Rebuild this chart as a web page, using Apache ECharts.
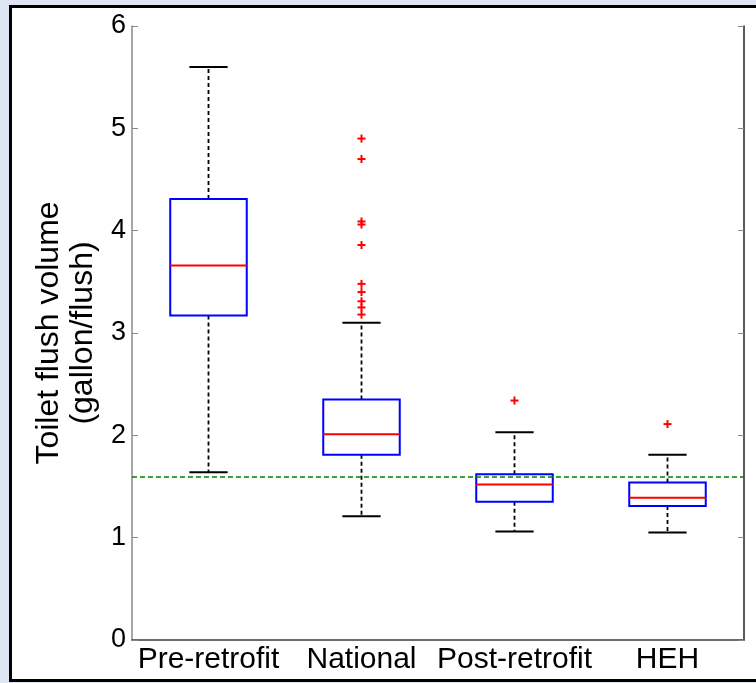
<!DOCTYPE html>
<html>
<head>
<meta charset="utf-8">
<script src="https://cdn.jsdelivr.net/npm/echarts@6/dist/echarts.min.js"></script>
<style>
  body { margin: 0; background: #dfe6f3; }
  #frame { position: absolute; left: 9px; top: 5px; width: 800px; height: 671px; background: #fff; border: 3px solid #000; }
  #main { position: absolute; left: 0; top: 0; width: 756px; height: 683px; }
</style>
</head>
<body>
<div id="frame"></div>
<div id="main"></div>
<script>
// box plot stats (gallon/flush)
const categories = ['Pre-retrofit', 'National', 'Post-retrofit', 'HEH'];
const whiskerLow  = [1.64, 1.21, 1.06, 1.05];
const q1          = [3.17, 1.81, 1.35, 1.31];
const median      = [3.66, 2.01, 1.52, 1.39];
const q3          = [4.31, 2.35, 1.62, 1.54];
const whiskerHigh = [5.60, 3.10, 2.03, 1.81];
// [category index, value]
const outliers = [
  [1, 4.90], [1, 4.70], [1, 4.09], [1, 4.06], [1, 3.86],
  [1, 3.48], [1, 3.40], [1, 3.31], [1, 3.25], [1, 3.18],
  [2, 2.34], [3, 2.11]
];
const standardLine = 1.6;

const boxData = categories.map(function (c, i) {
  return [i, whiskerLow[i], q1[i], median[i], q3[i], whiskerHigh[i]];
});

function renderBox(params, api) {
  let i = api.value(0);
  let band = api.size([1, 0])[0];
  let halfBox = band * 0.25;
  let halfCap = band * 0.125;
  let pLow = api.coord([i, api.value(1)]);
  let pQ1 = api.coord([i, api.value(2)]);
  let pMed = api.coord([i, api.value(3)]);
  let pQ3 = api.coord([i, api.value(4)]);
  let pHigh = api.coord([i, api.value(5)]);
  let x = pMed[0];
  let dash = { stroke: '#000', lineWidth: 1.8, lineDash: [4, 3] };
  let solid = { stroke: '#000', lineWidth: 2 };
  return {
    type: 'group',
    children: [
      { type: 'line', shape: { x1: x, y1: pQ3[1], x2: x, y2: pHigh[1] }, style: dash },
      { type: 'line', shape: { x1: x, y1: pQ1[1], x2: x, y2: pLow[1] }, style: dash },
      { type: 'line', shape: { x1: x - halfCap, y1: pHigh[1], x2: x + halfCap, y2: pHigh[1] }, style: solid },
      { type: 'line', shape: { x1: x - halfCap, y1: pLow[1], x2: x + halfCap, y2: pLow[1] }, style: solid },
      { type: 'rect', shape: { x: x - halfBox, y: pQ3[1], width: halfBox * 2, height: pQ1[1] - pQ3[1] },
        style: { fill: 'none', stroke: '#0000ff', lineWidth: 2 } },
      { type: 'line', shape: { x1: x - halfBox, y1: pMed[1], x2: x + halfBox, y2: pMed[1] },
        style: { stroke: '#ff0000', lineWidth: 2 } }
    ]
  };
}

function renderPlus(params, api) {
  let p = api.coord([api.value(0), api.value(1)]);
  let s = 4;
  let st = { stroke: '#ff0000', lineWidth: 2 };
  return {
    type: 'group',
    children: [
      { type: 'line', shape: { x1: p[0] - s, y1: p[1], x2: p[0] + s, y2: p[1] }, style: st },
      { type: 'line', shape: { x1: p[0], y1: p[1] - s, x2: p[0], y2: p[1] + s }, style: st }
    ]
  };
}

const chart = echarts.init(document.getElementById('main'));
const font = 'Liberation Sans, Arial, sans-serif';

const option = {
  backgroundColor: 'transparent',
  animation: false,
  grid: { left: 132, right: 12, top: 26, bottom: 43 },
  xAxis: [
    {
      type: 'category',
      data: categories,
      boundaryGap: true,
      axisLine: { lineStyle: { color: '#555', width: 1.5 } },
      axisTick: { inside: true, alignWithLabel: true, length: 6, lineStyle: { color: '#555' } },
      axisLabel: { color: '#000', fontSize: 30, fontFamily: font, margin: 5, interval: 0 },
      splitLine: { show: false }
    },
    {
      type: 'category',
      data: categories,
      position: 'top',
      boundaryGap: true,
      axisLine: { lineStyle: { color: '#666', width: 1.5 } },
      axisTick: { inside: true, alignWithLabel: true, length: 6, lineStyle: { color: '#555' } },
      axisLabel: { show: false },
      splitLine: { show: false }
    }
  ],
  yAxis: [
    {
      type: 'value',
      min: 0, max: 6, interval: 1,
      name: 'Toilet flush volume\n(gallon/flush)',
      nameLocation: 'middle',
      nameRotate: 90,
      nameGap: 30,
      nameTextStyle: { color: '#000', fontSize: 32, fontFamily: font, lineHeight: 34 },
      axisLine: { show: true, lineStyle: { color: '#888', width: 1.5 } },
      axisTick: { show: true, inside: true, length: 6, lineStyle: { color: '#888' } },
      axisLabel: { color: '#000', fontSize: 27, fontFamily: font, margin: 6 },
      splitLine: { show: false }
    },
    {
      type: 'value',
      min: 0, max: 6, interval: 1,
      position: 'right',
      axisLine: { show: true, lineStyle: { color: '#222', width: 1.5 } },
      axisTick: { show: true, inside: true, length: 6, lineStyle: { color: '#888' } },
      axisLabel: { show: false },
      splitLine: { show: false }
    }
  ],
  series: [
    {
      name: 'boxes',
      type: 'custom',
      renderItem: renderBox,
      encode: { x: 0, y: [1, 2, 3, 4, 5] },
      data: boxData,
      z: 3
    },
    {
      name: 'outliers',
      type: 'custom',
      renderItem: renderPlus,
      encode: { x: 0, y: 1 },
      data: outliers,
      z: 3
    },
    {
      name: 'standard',
      type: 'line',
      data: [],
      markLine: {
        silent: true,
        symbol: 'none',
        label: { show: false },
        lineStyle: { color: '#008000', type: [5, 3], width: 1.5 },
        data: [{ yAxis: standardLine }]
      }
    }
  ]
};

chart.setOption(option);
</script>
</body>
</html>
